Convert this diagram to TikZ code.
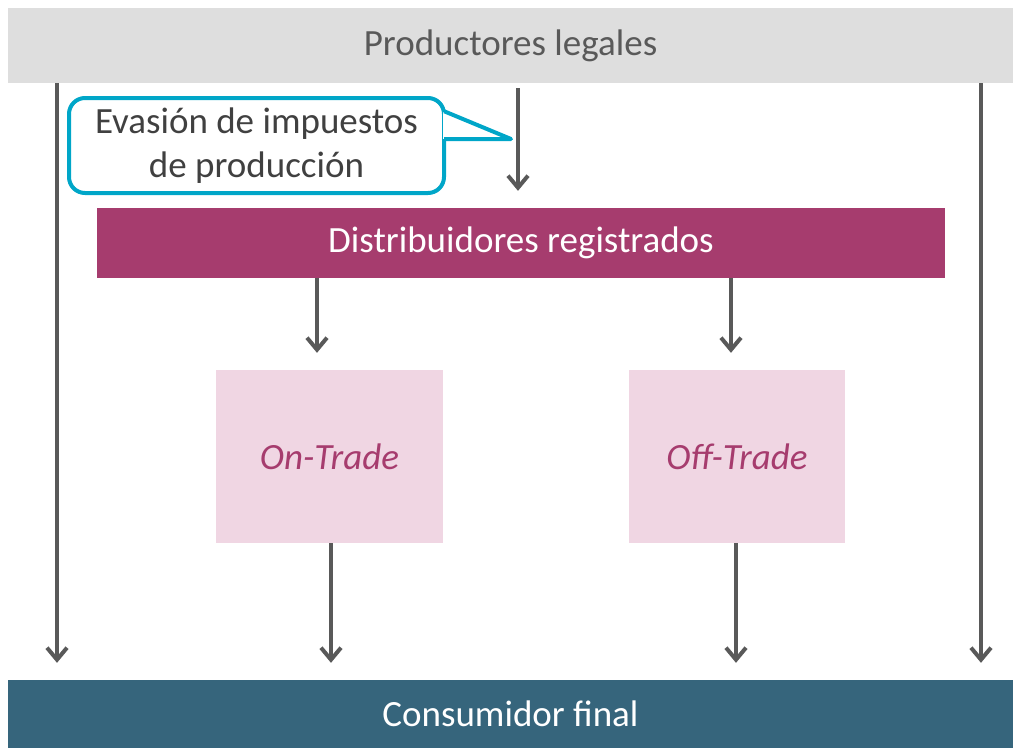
\documentclass[tikz,border=0pt]{standalone}
\usepackage{fontspec}
\setmainfont{Carlito}
\definecolor{bargray}{RGB}{222, 222, 222}
\definecolor{textgray}{RGB}{89, 89, 89}
\definecolor{darkgray1}{RGB}{64, 64, 64}
\definecolor{distmagenta}{RGB}{166, 60, 110}
\definecolor{tradepink}{RGB}{240, 214, 227}
\definecolor{consteal}{RGB}{54, 101, 124}
\definecolor{calloutcyan}{RGB}{0, 166, 200}
\usetikzlibrary{arrows.meta, positioning, calc}
\tikzset{
  bigtext/.style={font=\fontsize{37}{44}\selectfont},
  bar/.style={bigtext, inner sep=0pt, minimum width=1005pt},
  tradebox/.style={fill=tradepink, text=distmagenta, inner sep=0pt, minimum height=173pt, font=\fontsize{37}{44}\selectfont\itshape},
  flow/.style={draw=textgray, line width=4pt, -{Straight Barb[length=12pt, width=20pt]}, shorten >=17pt},
  calloutline/.style={draw=calloutcyan, line width=4pt}
}

\begin{document}
\begin{tikzpicture}[x=1pt, y=-1pt]
  \useasboundingbox (0, 0) rectangle (1013, 748);

  % Top and bottom bars
  \node[bar, fill=bargray, text=textgray, minimum height=75pt] (top) at (510.5, 45.5) {Productores legales};
  \node[bar, fill=consteal, text=white, minimum height=68pt] (consumer) at (510.5, 714) {Consumidor final};

  % Registered distributors
  \node[bigtext, fill=distmagenta, text=white, inner sep=0pt, minimum width=848pt, minimum height=70pt] (dist) at (521, 243) {Distribuidores registrados};

  % On-Trade / Off-Trade
  \node[tradebox, minimum width=227pt] (ontrade) at (329.5, 456.5) {On-Trade};
  \node[tradebox, minimum width=216pt] (offtrade) at (737, 456.5) {Off-Trade};

  % Callout
  \node[bigtext, calloutline, rounded corners=16pt, text=darkgray1, align=center, inner sep=0pt, minimum width=375pt, minimum height=95pt] (callout) at (256.5, 145.5) {Evasión de impuestos\\de producción};
  \coordinate (tip) at (511, 139);
  \fill[white] ([xshift=-3pt, yshift=-16pt]callout.north east) rectangle ([xshift=3pt]tip -| callout.east);
  \draw[calloutline, line cap=rect, line join=round] ([yshift=-16pt]callout.north east) -- (tip) -- (tip -| callout.east);

  % Flows
  \coordinate (leftx) at (57, 0);
  \coordinate (rightx) at (981, 0);
  \coordinate (midx) at (518, 0);
  \coordinate (onx) at (317, 0);
  \coordinate (offx) at (731, 0);
  \draw[flow] (top.south -| leftx) -- (consumer.north -| leftx);
  \draw[flow] (top.south -| rightx) -- (consumer.north -| rightx);
  \draw[flow, shorten <=5pt] (top.south -| midx) -- (dist.north -| midx);
  \draw[flow] (dist.south -| onx) -- (ontrade.north -| onx);
  \draw[flow] (dist.south -| offx) -- (offtrade.north -| offx);
  \draw[flow] ([xshift=1.5pt]ontrade.south) -- ([xshift=1.5pt]ontrade.south |- consumer.north);
  \draw[flow] ([xshift=-1pt]offtrade.south) -- ([xshift=-1pt]offtrade.south |- consumer.north);
\end{tikzpicture}
\end{document}
